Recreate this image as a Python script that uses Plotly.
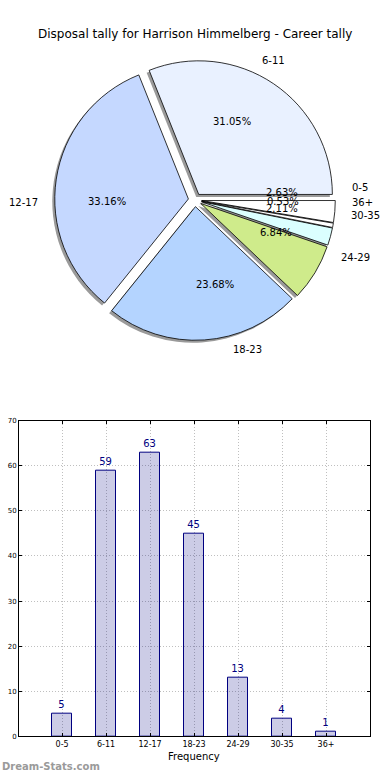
import math
import plotly.graph_objects as go

# ---- data ----
categories = ["0-5", "6-11", "12-17", "18-23", "24-29", "30-35", "36+"]
counts = [5, 59, 63, 45, 13, 4, 1]
pie_colors = ["#ffffff", "#e9f1ff", "#c5d8ff", "#b4d4ff", "#cfeb8b", "#dbffff", "#ffffff"]
title_text = "Disposal tally for Harrison Himmelberg - Career tally"
ytick_vals = [0, 10, 20, 30, 40, 50, 60, 70]
xlabel = "Frequency"
watermark = "Dream-Stats.com"

W, H = 390, 780
FONT = "DejaVu Sans"

def fx(px):
    return px / W

def fy(py):
    return 1 - py / H

# pie geometry (pixels)
cx, cy, R = 195, 198, 135
pull = 0.05
half = R * (1 + pull)
sh = 2.5  # shadow offset

fig = go.Figure()

# shadow pie
fig.add_trace(go.Pie(
    values=counts, labels=categories, sort=False, direction="counterclockwise",
    rotation=90, pull=[pull] * len(counts), textinfo="none", hoverinfo="skip",
    marker=dict(colors=["#9a9a9a"] * len(counts), line=dict(width=0)),
    domain=dict(x=[fx(cx - half - sh), fx(cx + half - sh)],
                y=[fy(cy + half + sh), fy(cy - half + sh)]),
    showlegend=False,
))
# main pie
fig.add_trace(go.Pie(
    values=counts, labels=categories, sort=False, direction="counterclockwise",
    rotation=90, pull=[pull] * len(counts), textinfo="none", hoverinfo="skip",
    marker=dict(colors=pie_colors, line=dict(color="#000000", width=0.8)),
    domain=dict(x=[fx(cx - half), fx(cx + half)],
                y=[fy(cy + half), fy(cy - half)]),
    showlegend=False,
))

annotations = []
total = sum(counts)
start = 0.0
for cat, v in zip(categories, counts):
    frac = v / total
    end = start + frac * 360
    mid = math.radians((start + end) / 2)
    c, s = math.cos(mid), math.sin(mid)
    ox, oy = pull * R * c, -pull * R * s
    lx, ly = cx + ox + 1.1 * R * c, cy + oy - 1.1 * R * s
    annotations.append(dict(
        x=fx(lx), y=fy(ly), xref="paper", yref="paper", text=cat, showarrow=False,
        xanchor="left" if c > 0 else "right", yanchor="middle",
        font=dict(family=FONT, size=10, color="#000000")))
    plx, ply = cx + ox + 0.6 * R * c, cy + oy - 0.6 * R * s
    annotations.append(dict(
        x=fx(plx), y=fy(ply), xref="paper", yref="paper", text="%1.2f%%" % (frac * 100),
        showarrow=False, xanchor="center", yanchor="middle",
        font=dict(family=FONT, size=10, color="#000000")))
    start = end

annotations.append(dict(
    x=0.5, y=fy(30), xref="paper", yref="paper", text=title_text, showarrow=False,
    xanchor="center", yanchor="middle", font=dict(family=FONT, size=12, color="#000000")))
annotations.append(dict(
    x=fx(194), y=fy(760), xref="paper", yref="paper", text=xlabel, showarrow=False,
    xanchor="center", yanchor="middle", font=dict(family=FONT, size=10, color="#000000")))
annotations.append(dict(
    x=0, y=fy(770), xref="paper", yref="paper", text="<b>" + watermark + "</b>",
    showarrow=False, xanchor="left", yanchor="middle",
    font=dict(family=FONT, size=10, color="#9a9a9a")))

# bar chart
fig.add_trace(go.Bar(
    x=categories, y=counts, width=0.45, xaxis="x", yaxis="y",
    marker=dict(color="rgba(0,0,128,0.2)", line=dict(color="#000080", width=1)),
    text=[str(v) for v in counts], textposition="outside", cliponaxis=False,
    textfont=dict(family=FONT, size=10, color="#000080"),
    hoverinfo="skip", showlegend=False,
))

fig.update_layout(
    width=W, height=H, margin=dict(l=0, r=0, t=0, b=0),
    paper_bgcolor="white", plot_bgcolor="white",
    annotations=annotations,
    xaxis=dict(domain=[fx(19), fx(370)], range=[-0.98, 7.0], type="category",
               showgrid=True, gridcolor="#bfbfbf", griddash="1px,2px", gridwidth=1,
               showline=True, linecolor="black", linewidth=1, mirror="ticks",
               ticks="inside", ticklen=3, tickcolor="black",
               tickfont=dict(family=FONT, size=8, color="#000000"),
               zeroline=False, fixedrange=True),
    yaxis=dict(domain=[fy(740), fy(421)], range=[0, 70], tickvals=ytick_vals,
               showgrid=True, gridcolor="#bfbfbf", griddash="1px,2px", gridwidth=1,
               showline=True, linecolor="black", linewidth=1, mirror="ticks",
               ticks="inside", ticklen=3, tickcolor="black",
               tickfont=dict(family=FONT, size=7, color="#000000"),
               zeroline=False, fixedrange=True),
    bargap=0,
)

fig.write_html(
    "out.html", config={"displayModeBar": False},
    post_script=("document.documentElement.style.margin='0';"
                 "document.body.style.margin='0';"
                 "document.body.style.overflow='hidden';"
                 "document.documentElement.style.overflow='hidden';"),
)
